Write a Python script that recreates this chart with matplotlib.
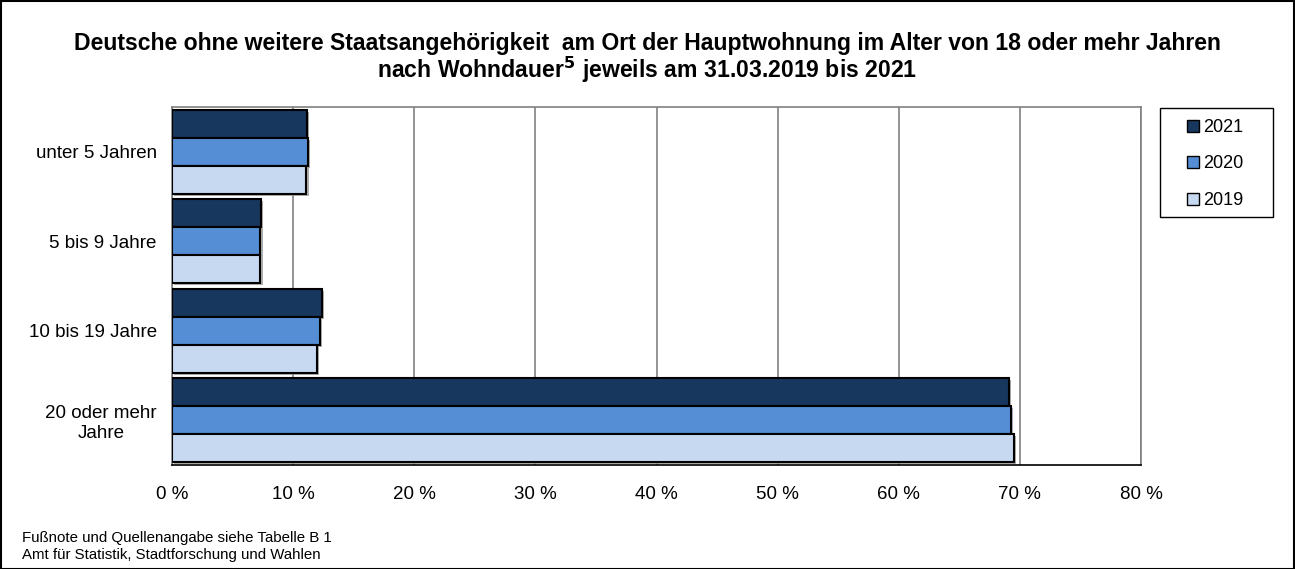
import matplotlib
matplotlib.use("Agg")
import matplotlib.pyplot as plt
import matplotlib.patheffects as pe
import numpy as np

plt.rcParams['font.family'] = ['Liberation Sans', 'DejaVu Sans']

categories = ["unter 5 Jahren", "5 bis 9 Jahre", "10 bis 19 Jahre", "20 oder mehr\nJahre"]
years = ["2021", "2020", "2019"]
v2021 = [11.15, 7.35, 12.35, 69.1]
v2020 = [11.2, 7.3, 12.2, 69.3]
v2019 = [11.1, 7.3, 12.0, 69.5]
series = [v2021, v2020, v2019]
colors = ["#17375E", "#558ED5", "#C6D9F1"]
xticks = [0, 10, 20, 30, 40, 50, 60, 70, 80]
xticklabels = [f"{t} %" for t in xticks]

W, H = 1295, 569
fig = plt.figure(figsize=(W/100, H/100), dpi=100)
ax = fig.add_axes([172/W, 1-465/H, (1141-172)/W, (465-107)/H])

n = len(categories)
h = 0.313
ypos = np.arange(n)
for i, (vals, col, yr) in enumerate(zip(series, colors, years)):
    offs = (i - 1) * h
    ax.barh(ypos + offs, vals, height=h, color=col, edgecolor="black", linewidth=1.5,
            label=yr, zorder=3,
            path_effects=[pe.SimplePatchShadow(offset=(1.5, -1.5), shadow_rgbFace="#999999", alpha=0.8), pe.Normal()])

ax.set_ylim(n - 0.5, -0.5)
ax.set_xlim(0, 80)
ax.set_xticks(xticks)
ax.set_xticklabels(xticklabels, fontsize=13.5)
ax.set_yticks(ypos)
ax.set_yticklabels(categories, fontsize=13.5, multialignment="center")
ax.tick_params(axis="x", length=0, pad=15)
ax.tick_params(axis="y", length=0, pad=11)
ax.xaxis.grid(True, color="#808080", linewidth=1.2, zorder=0)
for s in ["top", "right", "left"]:
    ax.spines[s].set_color("#808080")
    ax.spines[s].set_linewidth(1.2)
ax.spines["bottom"].set_color("black")
ax.spines["bottom"].set_linewidth(1.2)

leg = ax.legend(loc="upper left", bbox_to_anchor=(1187/W, 1-119/H), bbox_transform=fig.transFigure,
                fontsize=13, frameon=False, handlelength=0.67, handleheight=0.67,
                handletextpad=0.25, labelspacing=1.08, borderpad=0, borderaxespad=0)
for hnd in leg.legend_handles:
    hnd.set_linewidth(1.0)
    hnd.set_path_effects([])
fig.add_artist(plt.Rectangle((1160/W, 1-217/H), 113/W, 109/H, transform=fig.transFigure,
                             fill=False, edgecolor="black", linewidth=1.0))

fig.text(0.5, 1-50/H, "Deutsche ohne weitere Staatsangehörigkeit  am Ort der Hauptwohnung im Alter von 18 oder mehr Jahren",
         ha="center", va="baseline", fontsize=16.6, fontweight="bold")
fig.text(0.5, 1-78/H, "nach Wohndauer$^{\\mathbf{5}}$ jeweils am 31.03.2019 bis 2021",
         ha="center", va="baseline", fontsize=16.6, fontweight="bold")
fig.text(22/W, 1-538/H, "Fußnote und Quellenangabe siehe Tabelle B 1", fontsize=10.8, va="center")
fig.text(22/W, 1-555/H, "Amt für Statistik, Stadtforschung und Wahlen", fontsize=10.8, va="center")

fig.add_artist(plt.Rectangle((0.5/W, 0.5/H), 1-1.5/W, 1-1.5/H, transform=fig.transFigure,
                             fill=False, edgecolor="black", linewidth=1.5))

fig.savefig("out.png", dpi=100)
